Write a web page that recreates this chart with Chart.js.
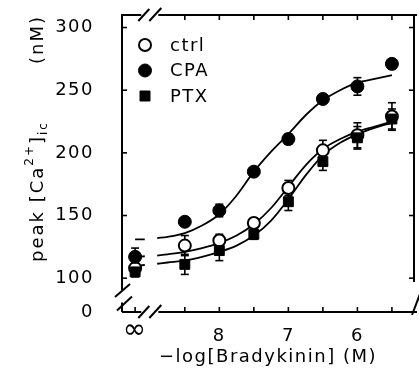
<!DOCTYPE html>
<html>
<head>
<meta charset="utf-8">
<style>
  html, body { margin: 0; padding: 0; background: #fff; }
  #wrap { width: 419px; height: 371px; }
</style>
<script src="https://cdn.jsdelivr.net/npm/chart.js@4.4.1/dist/chart.umd.min.js"></script>
</head>
<body>
<div id="wrap"><canvas id="chart"></canvas></div>
<script>
// -log[BK] of each dose; 9.22 is where the "no bradykinin" (infinity) points sit
const doses = [9.22, 8.5, 8, 7.5, 7, 6.5, 6, 5.5];

const ctrlMean = [108, 126, 130, 144, 172, 202, 214, 229];
const ctrlErr  = [4, 8, 5, 4, 6, 8, 10, 11];
const cpaMean  = [117, 145, 154, 185, 211, 243, 253, 271];
const cpaErr   = [7, 3, 5, 3, 4, 3, 7, 4];
const ptxMean  = [105, 111, 122, 135, 161, 193, 212, 227];
const ptxErr   = [4, 8, 8, 4, 7, 7, 9, 8];

// fitted curves (null = gap at the axis break)
const fitX    = [9.22, 9.08, 9.0, 8.9, 8.75, 8.5, 8.25, 8, 7.75, 7.5, 7.25, 7, 6.75, 6.5, 6.25, 6, 5.75, 5.5];
const ctrlFit = [117, 117.5, null, 118, 119, 121, 124, 128, 134, 143, 156, 173, 190, 203, 211, 217, 221, 225];
const cpaFit  = [131, 131, null, 132, 133, 136, 142, 151, 166, 185, 201, 215, 230, 242, 250, 256, 259, 262];
const ptxFit  = [110, 110.5, null, 111.5, 112.5, 114, 117, 121, 126, 134, 146, 163, 182, 198, 208, 215, 220, 224];

const xTicks = [9.22, 8.5, 8, 7.5, 7, 6.5, 6, 5.5];
const xTickLabels = ["∞", "", "8", "", "7", "", "6", ""];
// 73 is the bottom of the broken y axis, labelled 0
const yTicks = [73, 100, 150, 200, 250, 300];
const yTickLabels = ["0", "100", "150", "200", "250", "300"];

const FONT = "'DejaVu Sans', sans-serif";

function pts(xs, ys) {
    return xs.map((x, i) => ({x: x, y: ys[i]}));
}

function curve(values) {
    return {
        type: "line", data: pts(fitX, values), borderColor: "#000", borderWidth: 1.8,
        pointRadius: 0, cubicInterpolationMode: "monotone", spanGaps: false, order: 10,
    };
}

const series = [
    {label: "ctrl", mean: ctrlMean, err: ctrlErr, style: "circle", radius: 6, fill: "#fff", border: 2, order: 3},
    {label: "CPA", mean: cpaMean, err: cpaErr, style: "circle", radius: 6.5, fill: "#000", border: 1, order: 2},
    {label: "PTX", mean: ptxMean, err: ptxErr, style: "rect", radius: 7, fill: "#000", border: 1, order: 1},
];

const markerSets = series.map(s => ({
    type: "line", label: s.label, data: pts(doses, s.mean), showLine: false,
    pointStyle: s.style, pointRadius: s.radius, pointBackgroundColor: s.fill,
    pointBorderColor: "#000", pointBorderWidth: s.border, order: s.order,
}));

function line(ctx, x1, y1, x2, y2) {
    ctx.beginPath();
    ctx.moveTo(x1, y1);
    ctx.lineTo(x2, y2);
    ctx.stroke();
}

const decor = {
    id: "decor",
    beforeDraw(chart) {
        chart.ctx.letterSpacing = "1.5px";
    },
    beforeDatasetsDraw(chart) {
        // error bars
        const ctx = chart.ctx, xs = chart.scales.x, ys = chart.scales.y;
        ctx.save();
        ctx.strokeStyle = "#000";
        ctx.lineWidth = 1.6;
        series.forEach(s => {
            doses.forEach((d, i) => {
                const px = xs.getPixelForValue(d);
                const hi = ys.getPixelForValue(s.mean[i] + s.err[i]);
                const lo = ys.getPixelForValue(s.mean[i] - s.err[i]);
                line(ctx, px, hi, px, lo);
                line(ctx, px - 4, hi, px + 4, hi);
                line(ctx, px - 4, lo, px + 4, lo);
            });
        });
        ctx.restore();
    },
    afterDatasetsDraw(chart) {
        const ctx = chart.ctx, xs = chart.scales.x, ys = chart.scales.y;
        const {left, right, top, bottom} = chart.chartArea;
        ctx.save();
        ctx.strokeStyle = "#000";
        ctx.lineWidth = 2;
        ctx.lineCap = "butt";

        const xb = xs.getPixelForValue(9.0);
        const yb1 = ys.getPixelForValue(90.5), yb2 = ys.getPixelForValue(80.5);

        // left axis with break
        line(ctx, left, top - 1, left, yb1);
        line(ctx, left, yb2, left, bottom);
        line(ctx, left - 7, yb1 + 7, left + 8, yb1 - 6);
        line(ctx, left - 5, yb2 + 8, left + 10, yb2 - 6);
        // right axis
        line(ctx, right, top - 1, right, yb1 - 8);
        line(ctx, right - 2, bottom + 3, right + 6, bottom - 18);
        // bottom and top axes with break
        [bottom, top].forEach(y => {
            line(ctx, left, y, xb - 9, y);
            line(ctx, xb + 8, y, right + 3, y);
            line(ctx, xb - 12, y + 6, xb - 1, y - 6);
            line(ctx, xb - 1, y + 6, xb + 11, y - 7);
        });

        // inward ticks
        ctx.lineWidth = 1.6;
        yTicks.slice(1).forEach(v => {
            const py = ys.getPixelForValue(v);
            line(ctx, left, py, left + 5, py);
            line(ctx, right, py, right - 5, py);
        });
        xTicks.forEach((v, i) => {
            const px = xs.getPixelForValue(v);
            line(ctx, px, bottom, px, bottom - 5);
            if (i > 0) line(ctx, px, top, px, top + 5);
        });

        // legend
        ctx.font = "18px " + FONT;
        ctx.fillStyle = "#000";
        ctx.textBaseline = "middle";
        ctx.textAlign = "left";
        series.forEach((s, i) => {
            const y = 45 + i * 25.5, x = 145;
            ctx.beginPath();
            if (s.style === "rect") {
                ctx.rect(x - 5, y - 5, 10, 10);
            } else {
                ctx.arc(x, y, s.radius, 0, Math.PI * 2);
            }
            ctx.fillStyle = s.fill;
            ctx.fill();
            ctx.lineWidth = s.border;
            ctx.stroke();
            ctx.fillStyle = "#000";
            ctx.fillText(s.label, 170, y + 1);
        });

        // y title: peak [Ca2+]ic (nM)
        ctx.translate(43, 0);
        ctx.rotate(-Math.PI / 2);
        ctx.textBaseline = "alphabetic";
        ctx.letterSpacing = "2px";
        let u = -262;
        const parts = [
            ["peak [Ca", 18, 0],
            ["2+", 12, -10],
            ["]", 18, 0],
            ["ic", 12, 4],
        ];
        parts.forEach(([t, size, dv]) => {
            ctx.font = size + "px " + FONT;
            ctx.fillText(t, u, dv);
            u += ctx.measureText(t).width;
        });
        ctx.font = "18px " + FONT;
        const unit = "(nM)";
        ctx.fillText(unit, -15 - ctx.measureText(unit).width, 0);
        ctx.restore();
    },
};

const chart = new Chart(document.getElementById("chart"), {
    data: {
        datasets: [curve(ctrlFit), curve(cpaFit), curve(ptxFit), ...markerSets],
    },
    options: {
        responsive: true,
        maintainAspectRatio: false,
        animation: false,
        layout: {autoPadding: false, padding: {top: 15, right: 5, left: 0, bottom: 0}},
        plugins: {legend: {display: false}, tooltip: {enabled: false}},
        scales: {
            x: {
                type: "linear", reverse: true, min: 5.18, max: 9.41,
                grid: {display: false}, border: {display: false},
                afterBuildTicks: s => { s.ticks = xTicks.map(v => ({value: v})); },
                afterFit: s => {
                    s.height = 59;
                    s.paddingLeft = 0;
                    s.paddingRight = 0;
                },
                ticks: {
                    autoSkip: false, maxRotation: 0, padding: 6, color: "#000",
                    font: c => (c.index === 0
                        ? {family: FONT, size: 28, lineHeight: 0.35}
                        : {family: FONT, size: 18}),
                    callback: (v, i) => xTickLabels[i],
                },
                title: {
                    display: true, text: "−log[Bradykinin] (M)", color: "#000",
                    font: {family: FONT, size: 18}, padding: {top: 0, bottom: 3},
                },
            },
            y: {
                type: "linear", min: 73, max: 310,
                grid: {display: false}, border: {display: false},
                afterBuildTicks: s => { s.ticks = yTicks.map(v => ({value: v})); },
                afterFit: s => {
                    s.width = 122;
                    s.paddingTop = 0;
                    s.paddingBottom = 0;
                },
                ticks: {
                    padding: 20, color: "#000", font: {family: FONT, size: 18},
                    callback: (v, i) => yTickLabels[i],
                },
            },
        },
    },
    plugins: [decor],
});
</script>
</body>
</html>
